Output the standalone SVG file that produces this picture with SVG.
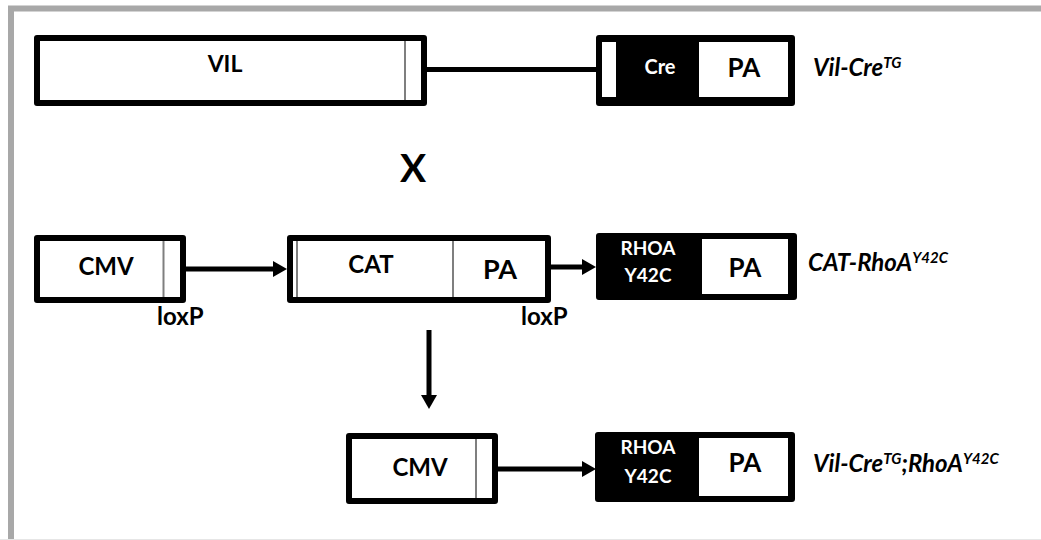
<svg xmlns="http://www.w3.org/2000/svg" width="1041" height="540" viewBox="0 0 1041 540">
<style>
.box{fill:#fff;stroke:#000;stroke-width:6;stroke-linejoin:round}
.blk{fill:#000;stroke:#000;stroke-width:6;stroke-linejoin:round}
.wht{fill:#fff;stroke:none}
.sep{stroke:#7f7f7f;stroke-width:2}
.t{font-family:Lato,"Liberation Sans",sans-serif;font-weight:bold;fill:#000}
.w{fill:#fff}
.lab{font-family:Lato,"Liberation Sans",sans-serif;font-weight:bold;font-style:italic;font-size:24px;fill:#000}
.con{stroke:#000;stroke-width:5;fill:none}
</style>
<defs>
<marker id="ah" markerUnits="userSpaceOnUse" markerWidth="16" markerHeight="18" refX="2" refY="8" orient="auto">
<path d="M0,0 L14,8 L0,16 z" fill="#000"/>
</marker>
</defs>
<rect x="0" y="0" width="1041" height="540" fill="#fff"/>
<rect x="11" y="8.5" width="1040" height="540" fill="none" stroke="#a8a8a8" stroke-width="6"/>
<line x1="0" y1="539.5" x2="1041" y2="539.5" stroke="#e6e6e6" stroke-width="1"/>

<g id="connectors">
<line class="con" x1="427" y1="69.5" x2="597" y2="69.5"/>
<line class="con" x1="186" y1="269" x2="275" y2="269" marker-end="url(#ah)"/>
<line class="con" x1="551" y1="267" x2="584" y2="267" marker-end="url(#ah)"/>
<line class="con" x1="429" y1="330" x2="429" y2="397" marker-end="url(#ah)"/>
<line class="con" x1="498" y1="469" x2="584" y2="469" stroke-width="7" marker-end="url(#ah)"/>
</g>

<g id="vil">
<rect class="box" x="37" y="38" width="387" height="65"/>
<line class="sep" x1="405" y1="41" x2="405" y2="100"/>
<text class="t" x="225" y="72" font-size="23" text-anchor="middle">VIL</text>
</g>

<g id="cre">
<rect class="blk" x="599" y="38" width="193" height="65"/>
<rect class="wht" x="602" y="42" width="14" height="55"/>
<rect class="wht" x="699" y="42" width="89" height="55"/>
<text class="t w" x="660" y="74" font-size="20" text-anchor="middle">Cre</text>
<text class="t" x="744" y="77" font-size="26" text-anchor="middle">PA</text>
</g>
<text id="lbl-vilcre" class="lab" x="813" y="76">Vil-Cre<tspan font-size="15" dy="-8">TG</tspan></text>

<text id="cross" class="t" x="413" y="182" font-size="39" text-anchor="middle">X</text>

<g id="cmv1">
<rect class="box" x="37" y="238" width="146" height="62"/>
<line class="sep" x1="163.5" y1="241" x2="163.5" y2="297"/>
<text class="t" x="106" y="275" font-size="24" text-anchor="middle">CMV</text>
</g>
<text id="loxp1" class="t" x="157" y="325" font-size="24">loxP</text>

<g id="cat">
<rect class="box" x="290" y="238" width="258" height="62"/>
<line class="sep" x1="297" y1="241" x2="297" y2="297"/>
<line class="sep" x1="453" y1="241" x2="453" y2="297"/>
<text class="t" x="371" y="273" font-size="24" text-anchor="middle">CAT</text>
<text class="t" x="500" y="279" font-size="27" text-anchor="middle">PA</text>
</g>
<text id="loxp2" class="t" x="521" y="325" font-size="24">loxP</text>

<g id="rhoa1">
<rect class="blk" x="599" y="236" width="195" height="61"/>
<rect class="wht" x="702" y="239" width="86" height="55"/>
<text class="t w" x="648" y="255" font-size="19" text-anchor="middle">RHOA</text>
<text class="t w" x="648" y="282" font-size="19" text-anchor="middle">Y42C</text>
<text class="t" x="745" y="277" font-size="26" text-anchor="middle">PA</text>
</g>
<text id="lbl-cat" class="lab" x="808" y="271">CAT-RhoA<tspan font-size="15" dy="-8">Y42C</tspan></text>

<g id="cmv2">
<rect class="box" x="349" y="436" width="146" height="65"/>
<line class="sep" x1="476" y1="439" x2="476" y2="498"/>
<text class="t" x="420" y="476" font-size="24" text-anchor="middle">CMV</text>
</g>

<g id="rhoa2">
<rect class="blk" x="598" y="435" width="194" height="64"/>
<rect class="wht" x="699" y="438" width="89" height="58"/>
<text class="t w" x="648" y="454" font-size="19" text-anchor="middle">RHOA</text>
<text class="t w" x="648" y="483" font-size="19" text-anchor="middle">Y42C</text>
<text class="t" x="745" y="472" font-size="26" text-anchor="middle">PA</text>
</g>
<text id="lbl-final" class="lab" x="813" y="472">Vil-Cre<tspan font-size="15" dy="-8">TG</tspan><tspan dy="8">;RhoA</tspan><tspan font-size="15" dy="-8">Y42C</tspan></text>
</svg>
